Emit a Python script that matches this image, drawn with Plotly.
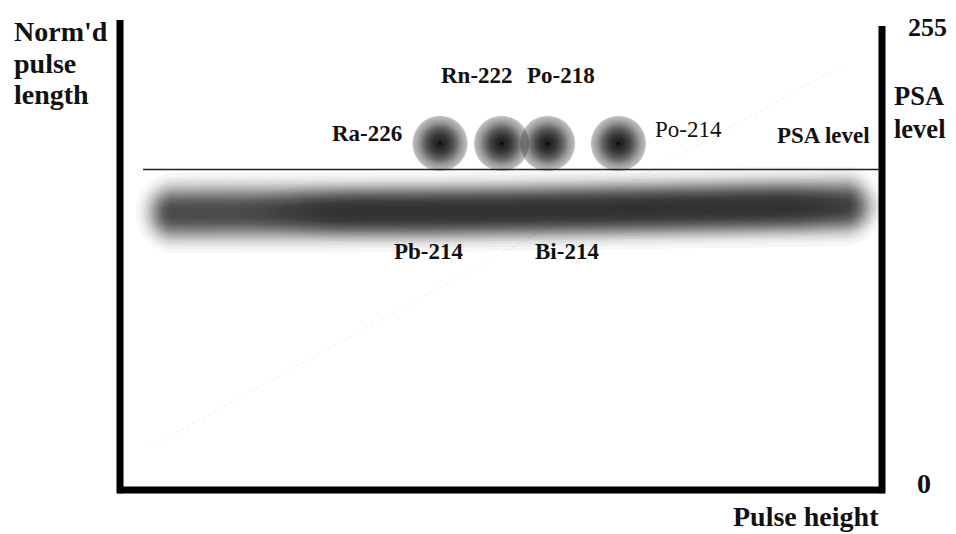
import numpy as np
import plotly.graph_objects as go

# ---------------- data ----------------
# axes: pulse height 0..255 (x), normalised pulse length 0..255 (y)
alpha_names = ["Ra-226", "Rn-222", "Po-218", "Po-214"]
alpha_x = [107.1, 127.7, 143.1, 166.8]
alpha_y = [188.8, 188.8, 188.8, 188.8]

psa_level = 174.6
psa_x = [7.7, 255]

# beta/gamma band centre line (ends of the dense part)
band_x = [18.0, 60.2, 110.4, 160.6, 199.8, 242.5]
band_y = [151.0, 151.5, 151.5, 152.6, 153.7, 154.8]
# darker core part of the band
core_x = [80.0, 110.4, 160.6, 199.8, 218.0]
core_y = [151.5, 151.5, 152.6, 153.7, 154.0]

# faint diagonal trace
diag_x = [10.0, 242.6]
diag_y = [23.4, 232.1]

# labels: text, x, y, bold
label_text = ["Ra-226", "Rn-222", "Po-218", "Po-214", "PSA level", "Pb-214", "Bi-214"]
label_x = [82.7, 119.3, 147.7, 190.2, 235.4, 103.4, 149.6]
label_y = [194.5, 226.1, 226.1, 196.2, 192.9, 129.7, 129.7]
label_bold = [True, True, True, False, True, True, True]
label_size = [23, 23, 23, 23, 23, 23, 23]

# ---------------- figure ----------------
OFF = 8                     # page body margin of the html page
W, H = 956 - OFF, 534 - OFF
L, T = 120 - OFF, 22 - OFF
pw, ph = 762, 468
R, B = W - L - pw, H - T - ph
px2x = 255.0 / pw
px2y = 255.0 / ph

fig = go.Figure()

# faint diagonal
fig.add_trace(go.Scatter(x=diag_x, y=diag_y, mode="lines",
                         line=dict(color="rgba(0,0,0,0.07)", width=1, dash="dot"),
                         hoverinfo="skip", showlegend=False))

# band: nested translucent stadium-shaped fills giving a soft profile
def add_band(xs, ys, peak, s, p, a, capx=1.0, rgb="25,25,25"):
    xs = np.array(xs, float); ys = np.array(ys, float)
    xline = np.linspace(xs[0], xs[-1], 80)
    yline = np.interp(xline, xs, ys)
    nmax = int(np.floor(np.log(1 - peak) / np.log(1 - a)))
    th = np.linspace(-np.pi / 2, np.pi / 2, 25)
    for k in range(1, nmax + 1):
        f = 1 - (1 - a) ** k
        h = s * np.log(peak / f) ** (1.0 / p) if f < peak else 0.5
        h = max(h, 0.5)
        hx, hy = h * px2x * capx, h * px2y
        top_x, top_y = xline, yline + hy
        rc_x = xs[-1] + hx * np.cos(th[::-1]); rc_y = ys[-1] + hy * np.sin(th[::-1])
        bot_x, bot_y = xline[::-1], yline[::-1] - hy
        lc_x = xs[0] - hx * np.cos(th); lc_y = ys[0] + hy * np.sin(-th)
        px_ = np.concatenate([top_x, rc_x, bot_x, lc_x])
        py_ = np.concatenate([top_y, rc_y, bot_y, lc_y[::-1]])
        fig.add_trace(go.Scatter(x=px_, y=py_, mode="lines", fill="toself",
                                 fillcolor=f"rgba({rgb},{a})", line=dict(width=0),
                                 hoverinfo="skip", showlegend=False))

add_band(band_x, band_y, peak=0.76, s=26.0, p=2.5, a=0.04, capx=0.95)
add_band(core_x, core_y, peak=0.45, s=20.0, p=2.5, a=0.03, capx=4.0)

# alpha spots: radial gradients (gradient colour = centre, marker colour = edge)
fig.add_trace(go.Scatter(x=alpha_x, y=alpha_y, mode="markers",
                         marker=dict(size=60, color="rgba(25,25,25,0)",
                                     gradient=dict(type="radial", color="rgba(25,25,25,0.2)"),
                                     line=dict(width=0)),
                         hoverinfo="skip", showlegend=False))
fig.add_trace(go.Scatter(x=alpha_x, y=alpha_y, mode="markers",
                         marker=dict(size=55, color="rgba(25,25,25,0.25)",
                                     gradient=dict(type="radial", color="rgba(25,25,25,0.95)"),
                                     line=dict(width=0)),
                         hoverinfo="skip", showlegend=False))
fig.add_trace(go.Scatter(x=alpha_x, y=alpha_y, mode="markers",
                         marker=dict(size=42, color="rgba(25,25,25,0)",
                                     gradient=dict(type="radial", color="rgba(25,25,25,0.7)"),
                                     line=dict(width=0)),
                         hoverinfo="skip", showlegend=False))
fig.add_trace(go.Scatter(x=alpha_x, y=alpha_y, mode="markers",
                         marker=dict(size=3, color="#0a0a0a", line=dict(width=0)),
                         hoverinfo="skip", showlegend=False))

# PSA level line
fig.add_trace(go.Scatter(x=psa_x, y=[psa_level, psa_level], mode="lines",
                         line=dict(color="#222222", width=1.6),
                         hoverinfo="skip", showlegend=False))

serif = "Liberation Serif, Times New Roman, serif"
annotations = []
for t, x, y, b, s in zip(label_text, label_x, label_y, label_bold, label_size):
    annotations.append(dict(x=x, y=y, xref="x", yref="y", text=t, showarrow=False,
                            xanchor="center", yanchor="middle",
                            font=dict(family=serif, size=s, color="#111111",
                                      weight="bold" if b else "normal")))

def pa(px, py, text, size=28, xanchor="left"):
    annotations.append(dict(x=(px - OFF - L) / pw, y=(T + ph - (py - OFF)) / ph,
                            xref="paper", yref="paper",
                            text=text, showarrow=False, xanchor=xanchor, yanchor="middle",
                            font=dict(family=serif, size=size, color="#111111", weight="bold")))

pa(12, 31, "Norm'd")
pa(12, 63, "pulse")
pa(12, 94, "length")
pa(906, 28, "255", size=26)
pa(892, 96, "PSA", size=26.5)
pa(892, 129, "level", size=26.5)
pa(924, 483, "0", xanchor="center")
pa(731, 516, "Pulse height")

# axis frame (left, bottom, right)
shapes = [
    dict(type="line", xref="paper", yref="paper", x0=0, x1=0, y0=-0.007, y1=470 / ph,
         line=dict(color="black", width=7)),
    dict(type="line", xref="paper", yref="paper", x0=-0.004, x1=1.004, y0=0, y1=0,
         line=dict(color="black", width=7)),
    dict(type="line", xref="paper", yref="paper", x0=1, x1=1, y0=-0.007, y1=464 / ph,
         line=dict(color="black", width=7)),
]

fig.update_layout(
    width=W, height=H,
    margin=dict(l=L, r=R, t=T, b=B),
    paper_bgcolor="white", plot_bgcolor="white",
    xaxis=dict(range=[0, 255], visible=False, fixedrange=True),
    yaxis=dict(range=[0, 255], visible=False, fixedrange=True),
    annotations=annotations, shapes=shapes,
    showlegend=False,
)

fig.write_html("out.html")
